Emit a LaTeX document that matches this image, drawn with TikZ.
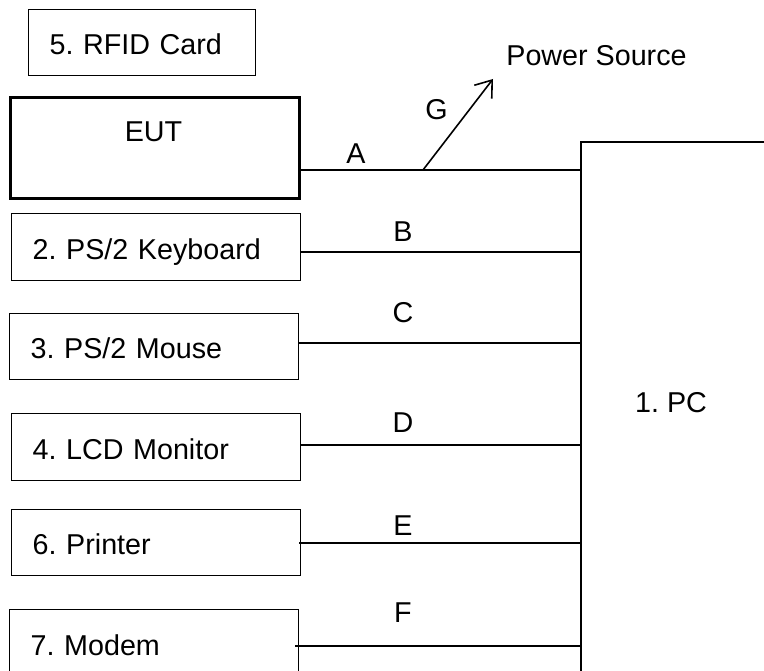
\documentclass[tikz,border=0pt]{standalone}
\usepackage{fontspec}
\setmainfont{Liberation Sans}
\usetikzlibrary{arrows.meta,positioning}
\frenchspacing

\begin{document}
\begin{tikzpicture}[
  x=1pt,y=-1pt,font=\fontsize{28.7}{34}\selectfont,
  dev/.style={draw,line width=1.4pt,anchor=north west,minimum height=67pt,
    inner xsep=21pt,inner ysep=0pt,text width=247pt,align=left,
    text height=24pt,text depth=0pt},
  wire/.style={line width=1.6pt},
  tag/.style={inner sep=0pt}]
  \path[use as bounding box,clip] (0,0) rectangle (764,671);
  \node[dev,text width=185pt,minimum height=66pt] (rfid) at (28,9) {5. RFID Card};
  \node[dev,line width=2.6pt,minimum height=101pt] (eut) at (9,96) {};
  \node[tag,anchor=north] (euttxt) at (153.5,122) {EUT};
  \node[dev] (kbd) at (11,213) {2. PS/2 Keyboard};
  \node[dev,minimum height=66pt] (mouse) at (9,313) {3. PS/2 Mouse};
  \node[dev] (lcd) at (11,413) {4. LCD Monitor};
  \node[dev,minimum height=66pt] (prn) at (11,509) {6. Printer};
  \node[dev] (modem) at (9,609) {7. Modem};
  % the PC runs off the right and bottom edges
  \node[draw,line width=2pt,anchor=north west,minimum width=220pt,
    minimum height=600pt] (pc) at (580,141) {};
  \node[tag] (pctxt) at (671,403) {1. PC};
  \node[tag] (pwr) at (596.5,56) {Power Source};
  \draw[wire] (eut.east |- 0,170) -- (pc.west |- 0,170);
  \draw[wire] (kbd.east |- 0,252) -- (pc.west |- 0,252);
  \draw[wire] (mouse.east |- 0,343) -- (pc.west |- 0,343);
  \draw[wire] (lcd.east |- 0,445) -- (pc.west |- 0,445);
  \draw[wire] ([xshift=-2pt]prn.east |- 0,543) -- (pc.west |- 0,543);
  \draw[wire] ([xshift=-4pt]modem.east |- 0,646) -- (pc.west |- 0,646);
  \coordinate (tap) at (423,170);
  \coordinate (gend) at (493,79);
  \draw[wire,-{Straight Barb[length=15pt,width=22pt]}] (tap) -- (gend);
  \node[tag] (la) at (356,154) {A};
  \node[tag] (lb) at (403,232) {B};
  \node[tag] (lc) at (403,313) {C};
  \node[tag] (ld) at (403,423) {D};
  \node[tag] (le) at (403,526) {E};
  \node[tag] (lf) at (403,613) {F};
  \node[tag] (lg) at (436.5,110) {G};
\end{tikzpicture}
\end{document}
